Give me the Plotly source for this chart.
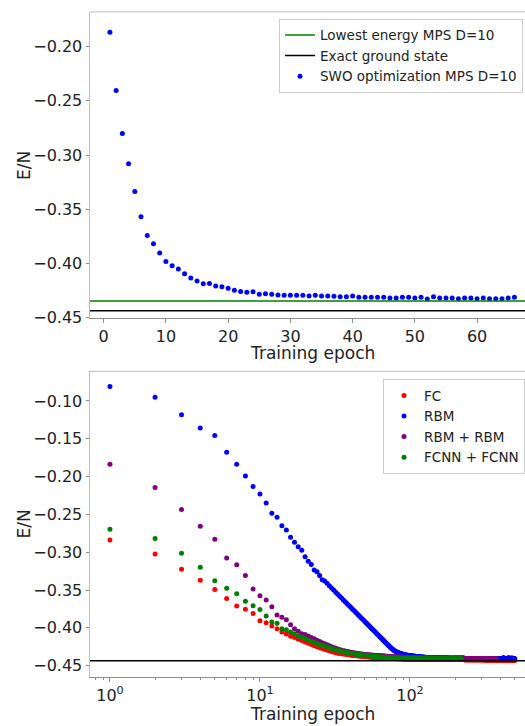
import plotly.graph_objects as go

FONT = "DejaVu Sans"
W, H = 525, 726

# ---------------- upper panel: SWO optimisation of an MPS (D=10) ----------------
SWO_ENERGY = [
    -0.1867, -0.2404, -0.2801, -0.3080, -0.3335, -0.3569, -0.3742, -0.3817, -0.3902, -0.3981,
    -0.4020, -0.4051, -0.4093, -0.4133, -0.4160, -0.4187, -0.4185, -0.4206, -0.4215, -0.4227,
    -0.4245, -0.4258, -0.4264, -0.4261, -0.4282, -0.4278, -0.4284, -0.4290, -0.4293, -0.4293,
    -0.4293, -0.4293, -0.4299, -0.4293, -0.4299, -0.4299, -0.4302, -0.4305, -0.4305, -0.4299,
    -0.4311, -0.4311, -0.4311, -0.4311, -0.4311, -0.4318, -0.4318, -0.4311, -0.4311, -0.4318,
    -0.4311, -0.4327, -0.4305, -0.4318, -0.4318, -0.4318, -0.4324, -0.4318, -0.4318, -0.4324,
    -0.4318, -0.4324, -0.4324, -0.4324, -0.4318, -0.4311,
]
SWO_EPOCHS = list(range(1, len(SWO_ENERGY) + 1))
MPS_D10_ENERGY = -0.4345
EXACT_ENERGY = -0.4435

# ---------------- lower panel: neural-network ansatz training ----------------
FC_ENERGY = [
    -0.2837, -0.3024, -0.3224, -0.3372, -0.3494, -0.3611, -0.3712, -0.3755, -0.3811, -0.3908,
    -0.3934, -0.3977, -0.4012, -0.4055, -0.4081, -0.4111, -0.4129, -0.4150, -0.4169, -0.4186,
    -0.4203, -0.4220, -0.4236, -0.4251, -0.4262, -0.4273, -0.4284, -0.4294, -0.4303, -0.4312,
    -0.4321, -0.4330, -0.4335, -0.4339, -0.4343, -0.4347, -0.4350, -0.4354, -0.4357, -0.4360,
    -0.4363, -0.4365, -0.4367, -0.4369, -0.4372, -0.4374, -0.4376, -0.4378, -0.4380, -0.4381,
    -0.4383, -0.4384, -0.4386, -0.4387, -0.4388, -0.4390, -0.4391, -0.4392, -0.4394, -0.4395,
    -0.4396, -0.4398, -0.4399, -0.4400, -0.4400, -0.4401, -0.4401, -0.4402, -0.4402, -0.4403,
    -0.4403, -0.4404, -0.4404, -0.4405, -0.4405, -0.4405, -0.4406, -0.4406, -0.4407, -0.4407,
    -0.4407, -0.4408, -0.4408, -0.4408, -0.4409, -0.4409, -0.4409, -0.4410, -0.4410, -0.4411,
    -0.4411, -0.4411, -0.4411, -0.4412, -0.4412, -0.4412, -0.4412, -0.4412, -0.4413, -0.4413,
    -0.4413, -0.4413, -0.4413, -0.4413, -0.4413, -0.4414, -0.4414, -0.4414, -0.4414, -0.4414,
    -0.4414, -0.4414, -0.4414, -0.4414, -0.4415, -0.4415, -0.4415, -0.4415, -0.4415, -0.4415,
    -0.4415, -0.4415, -0.4415, -0.4415, -0.4415, -0.4416, -0.4416, -0.4416, -0.4416, -0.4416,
    -0.4416, -0.4416, -0.4416, -0.4416, -0.4416, -0.4416, -0.4416, -0.4416, -0.4416, -0.4416,
    -0.4416, -0.4416, -0.4416, -0.4416, -0.4416, -0.4417, -0.4417, -0.4417, -0.4417, -0.4417,
    -0.4417, -0.4417, -0.4417, -0.4417, -0.4417, -0.4417, -0.4417, -0.4417, -0.4417, -0.4417,
    -0.4417, -0.4417, -0.4417, -0.4417, -0.4417, -0.4418, -0.4418, -0.4418, -0.4418, -0.4418,
    -0.4418, -0.4418, -0.4418, -0.4418, -0.4418, -0.4418, -0.4418, -0.4418, -0.4418, -0.4418,
    -0.4418, -0.4418, -0.4418, -0.4418, -0.4418, -0.4419, -0.4419, -0.4419, -0.4419, -0.4419,
    -0.4419, -0.4419, -0.4419, -0.4419, -0.4419, -0.4420, -0.4420, -0.4420, -0.4420, -0.4420,
    -0.4420, -0.4420, -0.4420, -0.4420, -0.4420, -0.4420, -0.4420, -0.4420, -0.4420, -0.4420,
    -0.4420, -0.4420, -0.4420, -0.4420, -0.4420, -0.4420, -0.4420, -0.4420, -0.4420, -0.4420,
    -0.4420, -0.4420, -0.4420, -0.4420, -0.4420, -0.4420, -0.4420, -0.4420, -0.4420, -0.4420,
    -0.4421, -0.4421, -0.4421, -0.4421, -0.4421, -0.4421, -0.4421, -0.4421, -0.4421, -0.4421,
    -0.4421, -0.4421, -0.4421, -0.4421, -0.4421, -0.4421, -0.4421, -0.4421, -0.4421, -0.4421,
    -0.4421, -0.4421, -0.4421, -0.4421, -0.4421, -0.4421, -0.4421, -0.4421, -0.4421, -0.4421,
    -0.4422, -0.4422, -0.4422, -0.4422, -0.4422, -0.4422, -0.4422, -0.4422, -0.4422, -0.4422,
    -0.4422, -0.4422, -0.4422, -0.4422, -0.4422, -0.4422, -0.4422, -0.4422, -0.4422, -0.4422,
    -0.4422, -0.4422, -0.4422, -0.4422, -0.4422, -0.4422, -0.4422, -0.4422, -0.4422, -0.4422,
    -0.4423, -0.4423, -0.4423, -0.4423, -0.4423, -0.4423, -0.4423, -0.4423, -0.4423, -0.4423,
    -0.4423, -0.4423, -0.4423, -0.4423, -0.4423, -0.4423, -0.4423, -0.4423, -0.4423, -0.4423,
    -0.4423, -0.4423, -0.4423, -0.4423, -0.4423, -0.4423, -0.4423, -0.4423, -0.4423, -0.4423,
    -0.4424, -0.4424, -0.4424, -0.4424, -0.4424, -0.4424, -0.4424, -0.4424, -0.4424, -0.4424,
    -0.4424, -0.4424, -0.4424, -0.4424, -0.4424, -0.4424, -0.4424, -0.4424, -0.4424, -0.4424,
    -0.4424, -0.4424, -0.4424, -0.4424, -0.4424, -0.4424, -0.4424, -0.4424, -0.4424, -0.4424,
    -0.4424, -0.4424, -0.4424, -0.4424, -0.4424, -0.4424, -0.4424, -0.4424, -0.4424, -0.4424,
    -0.4425, -0.4425, -0.4425, -0.4425, -0.4425, -0.4425, -0.4425, -0.4425, -0.4425, -0.4425,
    -0.4425, -0.4425, -0.4425, -0.4425, -0.4425, -0.4425, -0.4425, -0.4425, -0.4425, -0.4425,
    -0.4425, -0.4425, -0.4425, -0.4425, -0.4425, -0.4425, -0.4425, -0.4425, -0.4425, -0.4425,
    -0.4425, -0.4425, -0.4425, -0.4425, -0.4425, -0.4425, -0.4425, -0.4425, -0.4425, -0.4425,
    -0.4426, -0.4426, -0.4426, -0.4426, -0.4426, -0.4426, -0.4426, -0.4426, -0.4426, -0.4426,
    -0.4426, -0.4426, -0.4426, -0.4426, -0.4426, -0.4426, -0.4426, -0.4426, -0.4426, -0.4426,
    -0.4426, -0.4426, -0.4426, -0.4426, -0.4426, -0.4426, -0.4426, -0.4426, -0.4426, -0.4426,
    -0.4426, -0.4426, -0.4426, -0.4426, -0.4426, -0.4426, -0.4426, -0.4426, -0.4426, -0.4426,
    -0.4427, -0.4427, -0.4427, -0.4427, -0.4427, -0.4427, -0.4427, -0.4427, -0.4427, -0.4427,
    -0.4427, -0.4427, -0.4427, -0.4427, -0.4427, -0.4427, -0.4427, -0.4427, -0.4427, -0.4427,
    -0.4427, -0.4427, -0.4427, -0.4427, -0.4427, -0.4427, -0.4427, -0.4427, -0.4427, -0.4427,
    -0.4428, -0.4428, -0.4428, -0.4428, -0.4428, -0.4428, -0.4428, -0.4428, -0.4428, -0.4428,
    -0.4428, -0.4428, -0.4428, -0.4428, -0.4428, -0.4428, -0.4428, -0.4428, -0.4428, -0.4428,
    -0.4428, -0.4428, -0.4428, -0.4428, -0.4428, -0.4428, -0.4428, -0.4428, -0.4428, -0.4428,
]

RBM_ENERGY = [
    -0.0808, -0.0952, -0.1183, -0.1357, -0.1457, -0.1679, -0.1836, -0.1992, -0.2132, -0.2231,
    -0.2349, -0.2484, -0.2538, -0.2649, -0.2706, -0.2802, -0.2867, -0.2928, -0.2975, -0.3059,
    -0.3119, -0.3163, -0.3236, -0.3259, -0.3307, -0.3363, -0.3380, -0.3412, -0.3443, -0.3472,
    -0.3501, -0.3528, -0.3555, -0.3581, -0.3606, -0.3631, -0.3654, -0.3678, -0.3700, -0.3722,
    -0.3744, -0.3764, -0.3785, -0.3805, -0.3824, -0.3844, -0.3862, -0.3880, -0.3898, -0.3916,
    -0.3933, -0.3950, -0.3967, -0.3983, -0.3999, -0.4014, -0.4030, -0.4045, -0.4060, -0.4074,
    -0.4089, -0.4103, -0.4117, -0.4130, -0.4144, -0.4157, -0.4170, -0.4183, -0.4196, -0.4208,
    -0.4221, -0.4233, -0.4245, -0.4256, -0.4268, -0.4278, -0.4287, -0.4295, -0.4302, -0.4309,
    -0.4315, -0.4320, -0.4325, -0.4330, -0.4334, -0.4337, -0.4341, -0.4344, -0.4347, -0.4349,
    -0.4352, -0.4354, -0.4356, -0.4358, -0.4360, -0.4362, -0.4363, -0.4365, -0.4366, -0.4368,
    -0.4369, -0.4370, -0.4371, -0.4372, -0.4373, -0.4374, -0.4375, -0.4376, -0.4377, -0.4378,
    -0.4379, -0.4380, -0.4381, -0.4381, -0.4382, -0.4383, -0.4384, -0.4384, -0.4385, -0.4386,
    -0.4386, -0.4387, -0.4388, -0.4388, -0.4389, -0.4390, -0.4390, -0.4391, -0.4391, -0.4392,
    -0.4392, -0.4393, -0.4393, -0.4394, -0.4394, -0.4395, -0.4395, -0.4395, -0.4396, -0.4396,
    -0.4396, -0.4397, -0.4397, -0.4397, -0.4397, -0.4398, -0.4398, -0.4398, -0.4398, -0.4399,
    -0.4399, -0.4399, -0.4399, -0.4399, -0.4400, -0.4400, -0.4400, -0.4400, -0.4400, -0.4401,
    -0.4401, -0.4401, -0.4401, -0.4401, -0.4401, -0.4402, -0.4402, -0.4402, -0.4402, -0.4402,
    -0.4402, -0.4402, -0.4403, -0.4403, -0.4403, -0.4403, -0.4403, -0.4403, -0.4403, -0.4403,
    -0.4403, -0.4403, -0.4403, -0.4403, -0.4403, -0.4403, -0.4403, -0.4403, -0.4403, -0.4403,
    -0.4403, -0.4403, -0.4403, -0.4403, -0.4403, -0.4404, -0.4404, -0.4404, -0.4404, -0.4404,
    -0.4404, -0.4404, -0.4404, -0.4404, -0.4404, -0.4404, -0.4404, -0.4404, -0.4404, -0.4404,
    -0.4404, -0.4404, -0.4404, -0.4404, -0.4404, -0.4404, -0.4404, -0.4404, -0.4404, -0.4404,
    -0.4404, -0.4404, -0.4404, -0.4404, -0.4404, -0.4404, -0.4404, -0.4404, -0.4404, -0.4404,
    -0.4405, -0.4405, -0.4405, -0.4405, -0.4405, -0.4405, -0.4405, -0.4405, -0.4405, -0.4405,
    -0.4405, -0.4405, -0.4405, -0.4405, -0.4405, -0.4405, -0.4405, -0.4405, -0.4405, -0.4405,
    -0.4405, -0.4405, -0.4405, -0.4405, -0.4405, -0.4405, -0.4405, -0.4405, -0.4405, -0.4405,
    -0.4406, -0.4406, -0.4406, -0.4406, -0.4406, -0.4406, -0.4406, -0.4406, -0.4406, -0.4406,
    -0.4406, -0.4406, -0.4406, -0.4406, -0.4406, -0.4406, -0.4406, -0.4406, -0.4406, -0.4406,
    -0.4406, -0.4406, -0.4406, -0.4406, -0.4406, -0.4406, -0.4406, -0.4406, -0.4406, -0.4406,
    -0.4406, -0.4406, -0.4406, -0.4406, -0.4406, -0.4406, -0.4406, -0.4406, -0.4406, -0.4406,
    -0.4407, -0.4407, -0.4407, -0.4407, -0.4407, -0.4407, -0.4407, -0.4407, -0.4407, -0.4407,
    -0.4407, -0.4407, -0.4407, -0.4407, -0.4407, -0.4407, -0.4407, -0.4407, -0.4407, -0.4407,
    -0.4407, -0.4407, -0.4407, -0.4407, -0.4407, -0.4407, -0.4407, -0.4407, -0.4407, -0.4407,
    -0.4407, -0.4407, -0.4407, -0.4407, -0.4407, -0.4407, -0.4407, -0.4407, -0.4407, -0.4407,
    -0.4407, -0.4407, -0.4407, -0.4407, -0.4407, -0.4407, -0.4407, -0.4407, -0.4407, -0.4407,
    -0.4408, -0.4408, -0.4408, -0.4408, -0.4408, -0.4408, -0.4408, -0.4408, -0.4408, -0.4408,
    -0.4408, -0.4408, -0.4408, -0.4408, -0.4408, -0.4408, -0.4408, -0.4408, -0.4408, -0.4408,
    -0.4408, -0.4408, -0.4408, -0.4408, -0.4408, -0.4408, -0.4408, -0.4408, -0.4408, -0.4408,
    -0.4408, -0.4408, -0.4408, -0.4408, -0.4408, -0.4408, -0.4408, -0.4408, -0.4408, -0.4408,
    -0.4408, -0.4408, -0.4408, -0.4408, -0.4408, -0.4408, -0.4408, -0.4408, -0.4408, -0.4408,
    -0.4409, -0.4409, -0.4409, -0.4409, -0.4409, -0.4409, -0.4409, -0.4409, -0.4409, -0.4409,
    -0.4409, -0.4409, -0.4409, -0.4409, -0.4409, -0.4409, -0.4409, -0.4409, -0.4409, -0.4394,
    -0.4409, -0.4409, -0.4409, -0.4409, -0.4409, -0.4409, -0.4409, -0.4409, -0.4409, -0.4409,
    -0.4409, -0.4409, -0.4409, -0.4409, -0.4409, -0.4409, -0.4409, -0.4409, -0.4409, -0.4409,
    -0.4409, -0.4409, -0.4409, -0.4409, -0.4409, -0.4409, -0.4409, -0.4409, -0.4409, -0.4409,
    -0.4409, -0.4409, -0.4409, -0.4409, -0.4392, -0.4409, -0.4409, -0.4409, -0.4409, -0.4409,
    -0.4410, -0.4410, -0.4410, -0.4410, -0.4410, -0.4410, -0.4410, -0.4410, -0.4410, -0.4410,
    -0.4410, -0.4410, -0.4410, -0.4410, -0.4410, -0.4410, -0.4410, -0.4396, -0.4410, -0.4410,
    -0.4410, -0.4410, -0.4410, -0.4410, -0.4410, -0.4410, -0.4410, -0.4410, -0.4410, -0.4410,
    -0.4410, -0.4410, -0.4410, -0.4410, -0.4410, -0.4410, -0.4410, -0.4410, -0.4410, -0.4410,
]

RBM_RBM_ENERGY = [
    -0.1836, -0.2145, -0.2436, -0.2658, -0.2828, -0.3076, -0.3167, -0.3307, -0.3485, -0.3576,
    -0.3633, -0.3720, -0.3829, -0.3859, -0.3894, -0.3960, -0.4012, -0.4046, -0.4077, -0.4090,
    -0.4107, -0.4127, -0.4145, -0.4163, -0.4180, -0.4196, -0.4211, -0.4225, -0.4238, -0.4250,
    -0.4261, -0.4271, -0.4280, -0.4288, -0.4295, -0.4302, -0.4308, -0.4313, -0.4318, -0.4322,
    -0.4326, -0.4330, -0.4333, -0.4336, -0.4339, -0.4342, -0.4345, -0.4347, -0.4350, -0.4352,
    -0.4354, -0.4356, -0.4357, -0.4359, -0.4360, -0.4362, -0.4363, -0.4364, -0.4365, -0.4366,
    -0.4367, -0.4368, -0.4369, -0.4370, -0.4371, -0.4372, -0.4373, -0.4374, -0.4375, -0.4376,
    -0.4377, -0.4378, -0.4379, -0.4380, -0.4381, -0.4381, -0.4382, -0.4383, -0.4383, -0.4384,
    -0.4385, -0.4385, -0.4386, -0.4386, -0.4387, -0.4387, -0.4388, -0.4388, -0.4389, -0.4389,
    -0.4390, -0.4390, -0.4391, -0.4391, -0.4391, -0.4392, -0.4392, -0.4393, -0.4393, -0.4393,
    -0.4394, -0.4394, -0.4394, -0.4394, -0.4394, -0.4394, -0.4394, -0.4394, -0.4394, -0.4394,
    -0.4394, -0.4394, -0.4394, -0.4394, -0.4394, -0.4394, -0.4394, -0.4394, -0.4394, -0.4394,
    -0.4396, -0.4396, -0.4396, -0.4396, -0.4396, -0.4396, -0.4396, -0.4396, -0.4396, -0.4396,
    -0.4396, -0.4396, -0.4396, -0.4396, -0.4396, -0.4396, -0.4396, -0.4396, -0.4396, -0.4396,
    -0.4398, -0.4398, -0.4398, -0.4398, -0.4398, -0.4398, -0.4398, -0.4398, -0.4398, -0.4398,
    -0.4398, -0.4398, -0.4398, -0.4398, -0.4398, -0.4398, -0.4398, -0.4398, -0.4398, -0.4398,
    -0.4400, -0.4400, -0.4400, -0.4400, -0.4400, -0.4400, -0.4400, -0.4400, -0.4400, -0.4400,
    -0.4400, -0.4400, -0.4400, -0.4400, -0.4400, -0.4400, -0.4400, -0.4400, -0.4400, -0.4400,
    -0.4402, -0.4402, -0.4402, -0.4402, -0.4402, -0.4402, -0.4402, -0.4402, -0.4402, -0.4402,
    -0.4402, -0.4402, -0.4402, -0.4402, -0.4402, -0.4402, -0.4402, -0.4402, -0.4402, -0.4402,
    -0.4404, -0.4404, -0.4404, -0.4404, -0.4404, -0.4404, -0.4404, -0.4404, -0.4404, -0.4404,
    -0.4404, -0.4404, -0.4404, -0.4404, -0.4404, -0.4404, -0.4404, -0.4404, -0.4404, -0.4404,
    -0.4404, -0.4404, -0.4404, -0.4404, -0.4404, -0.4404, -0.4404, -0.4404, -0.4404, -0.4404,
    -0.4405, -0.4405, -0.4405, -0.4405, -0.4405, -0.4405, -0.4405, -0.4405, -0.4405, -0.4405,
    -0.4405, -0.4405, -0.4405, -0.4405, -0.4405, -0.4405, -0.4405, -0.4405, -0.4405, -0.4405,
    -0.4405, -0.4405, -0.4405, -0.4405, -0.4405, -0.4405, -0.4405, -0.4405, -0.4405, -0.4405,
    -0.4406, -0.4406, -0.4406, -0.4406, -0.4406, -0.4406, -0.4406, -0.4406, -0.4406, -0.4406,
    -0.4406, -0.4406, -0.4406, -0.4406, -0.4406, -0.4406, -0.4406, -0.4406, -0.4406, -0.4406,
    -0.4406, -0.4406, -0.4406, -0.4406, -0.4406, -0.4406, -0.4406, -0.4406, -0.4406, -0.4406,
    -0.4406, -0.4406, -0.4406, -0.4406, -0.4406, -0.4406, -0.4406, -0.4406, -0.4406, -0.4406,
    -0.4408, -0.4408, -0.4408, -0.4408, -0.4408, -0.4408, -0.4408, -0.4408, -0.4408, -0.4408,
    -0.4408, -0.4408, -0.4408, -0.4408, -0.4408, -0.4408, -0.4408, -0.4408, -0.4408, -0.4408,
    -0.4408, -0.4408, -0.4408, -0.4408, -0.4408, -0.4408, -0.4408, -0.4408, -0.4408, -0.4408,
    -0.4408, -0.4408, -0.4408, -0.4408, -0.4408, -0.4408, -0.4408, -0.4408, -0.4408, -0.4408,
    -0.4410, -0.4410, -0.4410, -0.4410, -0.4410, -0.4410, -0.4410, -0.4410, -0.4410, -0.4410,
    -0.4410, -0.4410, -0.4410, -0.4410, -0.4410, -0.4410, -0.4410, -0.4410, -0.4410, -0.4410,
    -0.4410, -0.4410, -0.4410, -0.4410, -0.4410, -0.4410, -0.4410, -0.4410, -0.4410, -0.4410,
    -0.4410, -0.4410, -0.4410, -0.4410, -0.4410,
]

FCNN_FCNN_ENERGY = [
    -0.2697, -0.2819, -0.3015, -0.3198, -0.3376, -0.3477, -0.3550, -0.3647, -0.3707, -0.3758,
    -0.3843, -0.3924, -0.3940, -0.4012, -0.4025, -0.4055, -0.4077, -0.4107, -0.4120, -0.4142,
    -0.4160, -0.4176, -0.4192, -0.4207, -0.4219, -0.4231, -0.4242, -0.4252, -0.4262, -0.4272,
    -0.4281, -0.4289, -0.4297, -0.4304, -0.4311, -0.4317, -0.4323, -0.4328, -0.4333, -0.4338,
    -0.4341, -0.4344, -0.4347, -0.4350, -0.4353, -0.4355, -0.4358, -0.4360, -0.4362, -0.4364,
    -0.4366, -0.4368, -0.4370, -0.4372, -0.4374, -0.4375, -0.4377, -0.4378, -0.4380, -0.4381,
    -0.4383, -0.4384, -0.4385, -0.4387, -0.4388, -0.4389, -0.4390, -0.4392, -0.4393, -0.4394,
    -0.4395, -0.4395, -0.4396, -0.4396, -0.4397, -0.4397, -0.4398, -0.4398, -0.4398, -0.4399,
    -0.4399, -0.4399, -0.4400, -0.4400, -0.4400, -0.4400, -0.4401, -0.4401, -0.4401, -0.4401,
    -0.4401, -0.4402, -0.4402, -0.4402, -0.4402, -0.4402, -0.4402, -0.4402, -0.4402, -0.4402,
    -0.4403, -0.4403, -0.4403, -0.4403, -0.4403, -0.4403, -0.4403, -0.4403, -0.4403, -0.4403,
    -0.4403, -0.4403, -0.4403, -0.4403, -0.4403, -0.4403, -0.4403, -0.4403, -0.4403, -0.4403,
    -0.4405, -0.4405, -0.4405, -0.4405, -0.4405, -0.4405, -0.4405, -0.4405, -0.4405, -0.4405,
    -0.4405, -0.4405, -0.4405, -0.4405, -0.4405, -0.4405, -0.4405, -0.4405, -0.4405, -0.4405,
    -0.4405, -0.4405, -0.4405, -0.4405, -0.4405, -0.4405, -0.4405, -0.4405, -0.4405, -0.4405,
    -0.4405, -0.4405, -0.4405, -0.4405, -0.4405, -0.4405, -0.4405, -0.4405, -0.4405, -0.4405,
    -0.4407, -0.4407, -0.4407, -0.4407, -0.4407, -0.4407, -0.4407, -0.4407, -0.4407, -0.4407,
    -0.4407, -0.4407, -0.4407, -0.4407, -0.4407, -0.4407, -0.4407, -0.4407, -0.4407, -0.4407,
    -0.4407, -0.4407, -0.4407, -0.4407, -0.4407, -0.4407, -0.4407, -0.4407, -0.4407, -0.4407,
    -0.4409, -0.4409, -0.4409, -0.4409, -0.4409, -0.4409, -0.4409, -0.4409, -0.4409, -0.4409,
    -0.4409, -0.4409, -0.4409, -0.4409, -0.4409, -0.4409, -0.4409, -0.4409, -0.4409, -0.4409,
    -0.4409, -0.4409, -0.4409, -0.4409, -0.4409, -0.4409, -0.4409, -0.4409, -0.4409, -0.4409,
]

NN_SERIES = [
    ("FC", FC_ENERGY, "red"),
    ("RBM", RBM_ENERGY, "blue"),
    ("RBM + RBM", RBM_RBM_ENERGY, "purple"),
    ("FCNN + FCNN", FCNN_FCNN_ENERGY, "green"),
]

LOG_TICKS = [1, 10, 100]
LOG_TICK_TEXT = ["10<sup>0</sup>", "10<sup>1</sup>", "10<sup>2</sup>"]
LOG_MINOR_TICKS = [0.8, 0.9, 2, 3, 4, 5, 6, 7, 8, 9,
                   20, 30, 40, 50, 60, 70, 80, 90, 200, 300, 400, 500]


def fx(px):
    return px / W


def fy(px):
    return 1 - px / H


TOP_DOMAIN = [fy(322), fy(12)]
BOT_DOMAIN = [fy(686), fy(376)]
X_DOMAIN = [fx(90), 1.0]

fig = go.Figure()

fig.add_trace(go.Scatter(
    x=SWO_EPOCHS, y=SWO_ENERGY, mode="markers",
    marker=dict(color="blue", size=5, line=dict(width=0)),
    name="SWO optimization MPS D=10",
    xaxis="x", yaxis="y", legend="legend", legendrank=3,
))

for name, values, color in NN_SERIES:
    fig.add_trace(go.Scatter(
        x=list(range(1, len(values) + 1)), y=values, mode="markers",
        marker=dict(color=color, size=5, line=dict(width=0)),
        name=name, xaxis="x2", yaxis="y2", legend="legend2",
    ))

# reference energies as horizontal lines
fig.add_shape(type="line", xref="x domain", yref="y", x0=0, x1=1,
              y0=MPS_D10_ENERGY, y1=MPS_D10_ENERGY,
              line=dict(color="green", width=1.5),
              showlegend=True, name="Lowest energy MPS D=10",
              legend="legend", legendrank=1)
fig.add_shape(type="line", xref="x domain", yref="y", x0=0, x1=1,
              y0=EXACT_ENERGY, y1=EXACT_ENERGY,
              line=dict(color="black", width=1.5),
              showlegend=True, name="Exact ground state",
              legend="legend", legendrank=2)
fig.add_shape(type="line", xref="x2 domain", yref="y2", x0=0, x1=1,
              y0=EXACT_ENERGY, y1=EXACT_ENERGY,
              line=dict(color="black", width=1.5))

# top spines
for xr, yr in (("x domain", "y domain"), ("x2 domain", "y2 domain")):
    fig.add_shape(type="line", xref=xr, yref=yr, x0=0, x1=1, y0=1, y1=1,
                  line=dict(color="#bdbdbd", width=1))

tick_font = dict(family=FONT, size=16, color="#222222")
common = dict(showgrid=False, zeroline=False, showline=True, ticks="outside",
              ticklen=3.5, tickwidth=1, tickcolor="#8c8c8c", tickfont=tick_font)

legend_style = dict(
    xanchor="left", yanchor="top",
    bgcolor="rgba(255,255,255,0.85)", bordercolor="#cccccc", borderwidth=1,
    font=dict(family=FONT, size=13.5, color="#222222"),
    tracegroupgap=0, itemwidth=30,
)

fig.update_layout(
    width=W, height=H,
    margin=dict(l=0, r=0, t=0, b=0),
    paper_bgcolor="white", plot_bgcolor="white",
    font=dict(family=FONT, color="#222222"),
    xaxis=dict(domain=X_DOMAIN, anchor="y", range=[-2.2, 67.7],
               tick0=0, dtick=10, linecolor="#8c8c8c", **common),
    yaxis=dict(domain=TOP_DOMAIN, anchor="x", range=[-0.4502, -0.1680],
               tick0=0, dtick=0.05, tickformat=".2f", linecolor="#bdbdbd", **common),
    xaxis2=dict(domain=X_DOMAIN, anchor="y2", type="log", range=[-0.133, 2.767],
                tickmode="array", tickvals=LOG_TICKS, ticktext=LOG_TICK_TEXT,
                minor=dict(tickmode="array", tickvals=LOG_MINOR_TICKS,
                           ticks="outside", ticklen=2, tickcolor="#8c8c8c"),
                linecolor="#8c8c8c", **common),
    yaxis2=dict(domain=BOT_DOMAIN, anchor="x2", range=[-0.4657, -0.0608],
                tick0=0, dtick=0.05, tickformat=".2f", linecolor="#bdbdbd", **common),
    legend=dict(x=fx(279), y=fy(19), **legend_style),
    legend2=dict(x=fx(383), y=fy(384), **legend_style),
    showlegend=True,
)

title_font = dict(family=FONT, size=17, color="#222222")
for text, x, y, angle in (
    ("Training epoch", 312, 357, 0),
    ("Training epoch", 312, 723, 0),
    ("E/N", 24, 168, -90),
    ("E/N", 24, 531, -90),
):
    fig.add_annotation(text=text, xref="paper", yref="paper", x=fx(x), y=fy(y),
                       xanchor="center", yanchor="middle", textangle=angle,
                       showarrow=False, font=title_font)

fig.write_html("out.html")
